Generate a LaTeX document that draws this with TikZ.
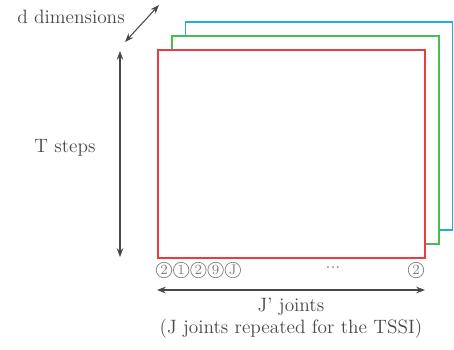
\documentclass[tikz,border=0pt]{standalone}
\usepackage{xcolor}
\usepackage{tikz}
\usetikzlibrary{arrows.meta, positioning}
\definecolor{rojo}{RGB}{236,60,66}
\definecolor{verde}{RGB}{72,190,82}
\definecolor{azul}{RGB}{28,172,236}
\definecolor{tinta}{RGB}{72,72,72}

\begin{document}
\begin{tikzpicture}[
  x=0.02cm, y=-0.02cm,
  frame/.style={draw, line width=0.8pt, minimum width=5.34cm,
                minimum height=4.16cm, inner sep=0pt},
  arr/.style={{Stealth[length=5pt]}-{Stealth[length=5pt]}, semithick, draw=tinta},
  lbl/.style={text=tinta, font=\fontsize{11}{13}\selectfont, inner sep=1pt},
  joint/.style={circle, draw=gray, text=gray, font=\footnotesize,
                inner sep=0.3pt, minimum size=0.31cm},
]
  \useasboundingbox (0,0) rectangle (454,349);

  % stacked frames, one per dimension
  \node[frame, draw=azul] (fb) at (319,126) {};
  \node[frame, draw=verde, fill=white] (fg) at (305.5,140) {};
  \node[frame, draw=rojo, fill=white] (fr) at (291.5,154) {};

  % arrow end points
  \coordinate (d1) at (125,42);
  \coordinate (d2) at (159,5);
  \coordinate (t1) at (120,51);
  \coordinate (t2) at (120,257);
  \coordinate (j1) at (157,290);
  \coordinate (j2) at (425,290);

  \draw[arr] (d1) -- (d2);
  \draw[arr] (t1) -- (t2);
  \draw[arr] (j1) -- (j2);

  \node[lbl] (dlab) at (71,17) {d dimensions};
  \node[lbl] (tlab) at (65,148) {T steps};
  \node[lbl] (jlab) at (291,307) {J' joints};
  \node[lbl] (jnote) at (291,329) {(J joints repeated for the TSSI)};

  % joint indices
  \node[joint] (n1) at (164,270) {2};
  \node[joint, right=0.02cm of n1] (n2) {1};
  \node[joint, right=0.02cm of n2] (n3) {2};
  \node[joint, right=0.02cm of n3] (n4) {9};
  \node[joint, right=0.02cm of n4] (n5) {J};
  \node[text=gray] (dots) at (333,268) {...};
  \node[joint] (nl) at (416,270) {2};
\end{tikzpicture}
\end{document}
